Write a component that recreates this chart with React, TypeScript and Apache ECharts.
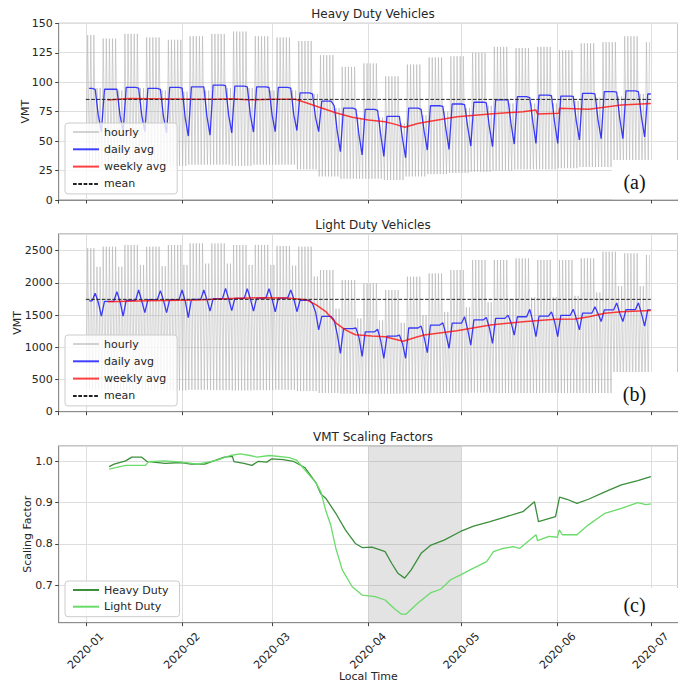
import React, { useEffect, useRef } from 'react';
import * as echarts from 'echarts';

// ---------- time base ----------
const DAY_MS = 86400000;
const START = Date.UTC(2020, 0, 1); // Wednesday
const N_DAYS = 182;
const at = (day: number) => START + day * DAY_MS;

// ---------- Heavy duty (per week, weeks Mon..Sun, week 0 = Jan 1-5) ----------
const HD_DAILY_MON_THU = [94.8, 94, 95.6, 94.8, 95.6, 96, 97.6, 96.7, 96, 95.6, 91, 84, 78, 77, 71, 78, 80, 81.5, 83, 85, 87.7, 89, 88.2, 90.5, 92, 92.7, 90];
const HD_DAILY_FRI = [94, 94, 95, 94, 95, 96, 97, 96, 95.5, 95, 90, 80, 77, 76, 71, 77, 79.5, 81, 82.5, 85, 87, 88.5, 88, 90, 91.5, 92, 90];
const HD_DAILY_SAT = [72, 72, 72, 71, 70, 71, 72, 72, 72, 72, 70, 58, 55, 55, 52, 58, 60, 62, 62, 64, 66, 66, 67, 68, 69, 70, 70];
const HD_DAILY_SUN = [58, 58, 58, 57, 54.3, 55, 57, 57.7, 58, 59, 58, 41, 38.2, 37, 36, 42.4, 43, 45.8, 45.3, 47.5, 48, 48, 51, 52, 52, 53.5, 53];
const HD_HOURLY_PEAK_WD = [140, 137, 141, 138, 136, 139, 141, 143, 139, 138, 135, 123, 113, 116, 105, 115, 121, 122, 125, 130, 129, 130, 127, 133, 134, 139, 134];
const HD_HOURLY_PEAK_WE = [95, 93, 95, 93, 92, 93, 95, 95, 93, 93, 90, 78, 70, 70, 65, 72, 75, 78, 80, 82, 82, 82, 84, 87, 88, 90, 90];
const HD_HOURLY_LOW = [30, 30, 29, 30, 29, 30, 30, 29, 30, 30, 26, 20, 18, 18, 17, 20, 22, 23, 24, 25, 26, 26, 27, 28, 28, 30, 30];
const HD_WEEKLY_DAY = [7, 14, 21, 28, 35, 42, 47, 52, 60, 67.5, 71, 75.2, 80.5, 85.8, 91, 96.4, 100, 102.7, 106.9, 110, 119.6, 130.2, 140.8, 145, 145.5, 152.4, 152.6, 162, 172.5, 182];
const HD_WEEKLY = [84.9, 86.2, 86, 85.8, 85.5, 85.5, 86, 85, 85.5, 85.5, 82.6, 78.7, 74.1, 70.2, 67.9, 66.5, 64, 61.7, 65, 66.5, 70.7, 73, 75, 76.4, 73, 73.6, 77.8, 77, 80.6, 82];
const HD_MEAN = 85.4;

// ---------- Light duty ----------
const LD_DAILY_MON_THU = [1720, 1715, 1730, 1740, 1740, 1745, 1755, 1760, 1765, 1765, 1730, 1480, 1290, 1240, 1175, 1300, 1346, 1375, 1425, 1450, 1475, 1486, 1495, 1530, 1580, 1585, 1580];
const LD_DAILY_FRI = [1840, 1864, 1890, 1880, 1890, 1890, 1916, 1910, 1910, 1890, 1680, 1420, 1300, 1280, 1190, 1330, 1380, 1475, 1465, 1500, 1590, 1550, 1590, 1630, 1690, 1690, 1600];
const LD_DAILY_SAT = [1700, 1710, 1720, 1730, 1720, 1740, 1750, 1750, 1750, 1750, 1550, 1200, 1150, 1100, 1060, 1150, 1200, 1280, 1300, 1380, 1400, 1400, 1450, 1520, 1530, 1520, 1500];
const LD_DAILY_SUN = [1486, 1486, 1540, 1540, 1460, 1563, 1570, 1563, 1550, 1553, 1270, 907, 860, 830, 830, 916, 984, 1035, 1062, 1190, 1165, 1165, 1270, 1400, 1400, 1330, 1300];
const LD_HOURLY_PEAK_WD = [2540, 2563, 2590, 2563, 2590, 2615, 2615, 2590, 2590, 2575, 2563, 2200, 2045, 1994, 1890, 2097, 2148, 2200, 2356, 2356, 2382, 2356, 2356, 2382, 2485, 2460, 2434];
const LD_HOURLY_PEAK_WE = [2250, 2250, 2280, 2260, 2280, 2300, 2300, 2280, 2280, 2270, 2100, 1600, 1450, 1420, 1380, 1500, 1550, 1620, 1700, 1750, 1780, 1780, 1800, 1850, 1950, 1950, 1950];
const LD_HOURLY_LOW = [345, 340, 335, 340, 330, 340, 335, 330, 335, 340, 320, 290, 280, 280, 280, 285, 290, 290, 295, 290, 290, 290, 290, 290, 290, 290, 290];
const LD_WEEKLY_DAY = [7, 20, 36, 46.5, 57, 64.6, 71, 74.2, 77.4, 80.5, 83.6, 86.8, 92.1, 96.4, 102.2, 106.9, 109, 119.5, 130.3, 140.8, 151.2, 157.6, 162.1, 167.2, 172.5, 182];
const LD_WEEKLY = [1708, 1725, 1735, 1760, 1770, 1765, 1740, 1660, 1550, 1380, 1270, 1195, 1175, 1165, 1095, 1165, 1190, 1258, 1346, 1398, 1435, 1440, 1475, 1528, 1553, 1570];
const LD_MEAN = 1745;

// ---------- Scaling factors ----------
const SF_HD_DAY = [7.5, 9.1, 12.8, 14.8, 18, 19.6, 25.5, 30.7, 33.9, 38.3, 44.6, 47.2, 47.7, 50.9, 53.5, 55.6, 58.3, 59.9, 63.6, 66.8, 70.5, 74.2, 75.7, 77.3, 80.5, 83.6, 86.8, 89, 92.1, 94.1, 96.4, 98.5, 100.5, 102.7, 104.8, 108, 111.2, 115.4, 120.7, 124.9, 130.2, 135.5, 140.8, 144.5, 145.8, 151.3, 152.6, 155, 158.2, 161.9, 167.2, 172.5, 177.8, 182];
const SF_HD = [0.987, 0.993, 1.001, 1.01, 1.01, 1.0, 0.995, 0.997, 0.993, 0.993, 1.01, 1.012, 0.999, 0.995, 0.99, 1.0, 0.998, 1.006, 1.004, 1.0, 0.985, 0.947, 0.921, 0.91, 0.874, 0.834, 0.801, 0.791, 0.792, 0.787, 0.781, 0.753, 0.729, 0.717, 0.737, 0.777, 0.797, 0.809, 0.83, 0.843, 0.854, 0.866, 0.878, 0.902, 0.854, 0.866, 0.913, 0.908, 0.898, 0.908, 0.926, 0.943, 0.953, 0.963];
const SF_LD_DAY = [7.5, 12.8, 19.2, 20.2, 25.5, 30.7, 36.1, 42.4, 46.5, 49.7, 52.9, 55.1, 59.2, 65.6, 67.8, 74.2, 75.7, 77.3, 78.9, 80.5, 82.6, 85.8, 89, 93.2, 96.4, 99.5, 101.6, 103.2, 106.9, 111.2, 114.3, 117.5, 120.7, 124.9, 129.1, 131.3, 134.4, 137.6, 139.7, 145, 145.5, 149.2, 151.9, 152.5, 153.5, 158.2, 161.9, 167.2, 172.5, 177.8, 180.4, 182];
const SF_LD = [0.981, 0.99, 0.99, 0.999, 1.001, 0.998, 0.993, 1.003, 1.014, 1.018, 1.014, 1.01, 1.014, 1.009, 1.003, 0.947, 0.926, 0.88, 0.845, 0.79, 0.737, 0.696, 0.676, 0.672, 0.664, 0.642, 0.63, 0.63, 0.656, 0.682, 0.69, 0.713, 0.725, 0.741, 0.757, 0.781, 0.789, 0.793, 0.789, 0.822, 0.808, 0.818, 0.816, 0.834, 0.822, 0.822, 0.846, 0.874, 0.886, 0.9, 0.895, 0.897];
const SHADE_DAYS = [91, 121]; // 2020-04-01 .. 2020-05-01

// ---------- builders ----------
const weekIndex = (d: number) => Math.floor((d + 2) / 7);
const weekday = (d: number) => (d + 2) % 7; // 0 = Monday

function dailySeries(monThu: number[], fri: number[], sat: number[], sun: number[]) {
  const out: [number, number][] = [];
  for (let d = 0; d < N_DAYS; d++) {
    const k = weekIndex(d);
    const w = weekday(d);
    const v = w <= 3 ? monThu[k] : w === 4 ? fri[k] : w === 5 ? sat[k] : sun[k];
    out.push([at(d + 1), v]);
  }
  return out;
}

function hourlySeries(peakWd: number[], peakWe: number[], low: number[]) {
  const out: [number, number][] = [];
  for (let d = 0; d < N_DAYS; d++) {
    const k = weekIndex(d);
    const w = weekday(d);
    out.push([at(d + 0.17), low[k]]);
    out.push([at(d + 0.58), w >= 5 ? peakWe[k] : peakWd[k]]);
  }
  return out;
}

const pairs = (days: number[], vals: number[]) => days.map((d, i) => [at(d), vals[i]]);

const FONT = 'DejaVu Sans';
const TEXT = '#262626';
const FRAME = '#8c8c8c';
const GRIDC = '#dedede';
const HOURLY_C = 'rgba(175,175,175,0.55)';
const BLUE = 'rgba(0,0,255,0.75)';
const RED = 'rgba(255,0,0,0.75)';
const HD_GREEN = '#3b8e3b';
const LD_GREEN = '#69dc69';

function buildOption() {
  const xMin = at(-8.75);
  const xMax = at(190.75);
  const gridBoxes = [
    { left: 58.7, top: 23.3, width: 628.8, height: 176.7 },
    { left: 58.7, top: 234, width: 628.8, height: 177.7 },
    { left: 58.7, top: 446, width: 628.8, height: 176.7 },
  ];
  const grid = gridBoxes.map((g) => ({ ...g, show: true, borderColor: FRAME, borderWidth: 1, containLabel: false }));

  const fmtMonth = (v: number) => {
    const d = new Date(v);
    return `${d.getUTCFullYear()}-${String(d.getUTCMonth() + 1).padStart(2, '0')}`;
  };

  const xAxis = [0, 1, 2].map((i) => ({
    type: 'time',
    gridIndex: i,
    min: xMin,
    max: xMax,
    splitNumber: 6,
    minInterval: 28 * DAY_MS,
    maxInterval: 31 * DAY_MS,
    axisLine: { show: true, lineStyle: { color: FRAME, width: 1 } },
    axisTick: { show: true, length: 3.5, lineStyle: { color: '#444' } },
    splitLine: { show: true, lineStyle: { color: GRIDC, width: 1 } },
    axisLabel:
      i === 2
        ? {
            show: true,
            rotate: 45,
            align: 'center',
            verticalAlign: 'middle',
            margin: 28,
            fontSize: 11,
            color: TEXT,
            fontFamily: FONT,
            formatter: fmtMonth,
            hideOverlap: false,
          }
        : { show: false },
    name: i === 2 ? 'Local Time' : '',
    nameLocation: 'middle',
    nameGap: 48,
    nameMoveOverlap: false,
    nameTextStyle: { fontSize: 11, color: TEXT, fontFamily: FONT },
  }));

  const yCommon = {
    type: 'value',
    nameLocation: 'middle',
    nameMoveOverlap: false,
    nameTextStyle: { fontSize: 11, color: TEXT, fontFamily: FONT },
    axisLine: { show: true, lineStyle: { color: FRAME, width: 1 } },
    axisTick: { show: true, length: 3.5, lineStyle: { color: '#444' } },
    splitLine: { show: true, lineStyle: { color: GRIDC, width: 1 } },
  };
  const yLabel = { fontSize: 11, color: TEXT, fontFamily: FONT, margin: 6, formatter: (v: number) => String(v) };
  const yAxis = [
    { ...yCommon, gridIndex: 0, min: 0, max: 150, interval: 25, name: 'VMT', nameGap: 28, axisLabel: { ...yLabel } },
    { ...yCommon, gridIndex: 1, min: 0, max: 2760, interval: 500, name: 'VMT', nameGap: 36, axisLabel: { ...yLabel, showMaxLabel: false } },
    {
      ...yCommon,
      gridIndex: 2,
      min: 0.609,
      max: 1.037,
      splitNumber: 5,
      name: 'Scaling Factor',
      nameGap: 25.5,
      axisLabel: { ...yLabel, showMinLabel: false, showMaxLabel: false, formatter: (v: number) => v.toFixed(1) },
    },
  ];

  const line = (name: string, xi: number, data: any[], color: string, width: number, extra: any = {}) => ({
    type: 'line',
    name,
    xAxisIndex: xi,
    yAxisIndex: xi,
    data,
    showSymbol: false,
    symbol: 'none',
    silent: true,
    itemStyle: { color },
    lineStyle: { color, width, ...(extra.lineStyle || {}) },
    emphasis: { disabled: true },
    z: extra.z ?? 2,
  });

  const series: any[] = [
    line('hourly', 0, hourlySeries(HD_HOURLY_PEAK_WD, HD_HOURLY_PEAK_WE, HD_HOURLY_LOW), HOURLY_C, 1),
    line('daily avg', 0, dailySeries(HD_DAILY_MON_THU, HD_DAILY_FRI, HD_DAILY_SAT, HD_DAILY_SUN), BLUE, 1.3),
    line('weekly avg', 0, pairs(HD_WEEKLY_DAY, HD_WEEKLY), RED, 1.5),
    line('mean', 0, [[at(0), HD_MEAN], [at(N_DAYS), HD_MEAN]], '#222', 1, { lineStyle: { type: [3.7, 1.6] } }),
    line('hourly', 1, hourlySeries(LD_HOURLY_PEAK_WD, LD_HOURLY_PEAK_WE, LD_HOURLY_LOW), HOURLY_C, 1),
    line('daily avg', 1, dailySeries(LD_DAILY_MON_THU, LD_DAILY_FRI, LD_DAILY_SAT, LD_DAILY_SUN), BLUE, 1.3),
    line('weekly avg', 1, pairs(LD_WEEKLY_DAY, LD_WEEKLY), RED, 1.5),
    line('mean', 1, [[at(0), LD_MEAN], [at(N_DAYS), LD_MEAN]], '#222', 1, { lineStyle: { type: [3.7, 1.6] } }),
    {
      type: 'line',
      xAxisIndex: 2,
      yAxisIndex: 2,
      data: [],
      silent: true,
      z: 1,
      markArea: {
        silent: true,
        itemStyle: { color: 'rgba(128,128,128,0.22)' },
        data: [[{ xAxis: at(SHADE_DAYS[0]) }, { xAxis: at(SHADE_DAYS[1]) }]],
      },
    },
    line('Heavy Duty', 2, pairs(SF_HD_DAY, SF_HD), HD_GREEN, 1.3, { z: 3 }),
    line('Light Duty', 2, pairs(SF_LD_DAY, SF_LD), LD_GREEN, 1.3, { z: 3 }),
  ];

  const legendBase = {
    orient: 'vertical',
    left: 65,
    itemWidth: 26,
    itemHeight: 2,
    itemGap: 4.3,
    padding: [2.5, 11, 3.5, 7],
    backgroundColor: 'rgba(255,255,255,0.8)',
    borderColor: '#cccccc',
    borderWidth: 1,
    borderRadius: 3,
    selectedMode: false,
    itemStyle: { opacity: 0 },
    textStyle: { fontSize: 11, color: TEXT, fontFamily: FONT, lineHeight: 13 },
  };
  const legend = [
    { ...legendBase, top: 123, data: ['hourly', 'daily avg', 'weekly avg', 'mean'] },
    { ...legendBase, top: 335, data: ['hourly', 'daily avg', 'weekly avg', 'mean'] },
    { ...legendBase, top: 581, itemGap: 3.7, data: ['Heavy Duty', 'Light Duty'] },
  ];

  const title = (text: string, y: number) => ({
    type: 'text',
    x: 373,
    y,
    z: 110,
    style: { text, align: 'center', verticalAlign: 'middle', font: `12px "${FONT}"`, fill: TEXT },
  });
  const tag = (text: string, boxTop: number, boxBottom: number) => [
    { type: 'rect', z: 100, silent: true, shape: { x: 612, y: boxTop, width: 120, height: boxBottom - boxTop }, style: { fill: '#ffffff', stroke: 'none', lineWidth: 0 } },
    {
      type: 'text',
      z: 101,
      x: 634.5,
      y: boxBottom - 17,
      style: { text, align: 'center', verticalAlign: 'middle', font: '20px "Liberation Serif"', fill: '#111' },
    },
  ];
  const graphic = [
    title('Heavy Duty Vehicles', 14.3),
    title('Light Duty Vehicles', 225),
    title('VMT Scaling Factors', 436.7),
    ...tag('(a)', 160, 199.3),
    ...tag('(b)', 372, 411),
    ...tag('(c)', 588, 622),
  ];

  return {
    animation: false,
    useUTC: true,
    backgroundColor: '#ffffff',
    textStyle: { fontFamily: FONT },
    grid,
    xAxis,
    yAxis,
    legend,
    series,
    graphic,
  };
}

export default function App() {
  const ref = useRef<HTMLDivElement>(null);
  useEffect(() => {
    if (!ref.current) return;
    const chart = echarts.init(ref.current, undefined, { renderer: 'svg' });
    chart.setOption(buildOption() as any);
    return () => chart.dispose();
  }, []);
  return <div ref={ref} style={{ position: 'fixed', left: 0, top: 0, width: 678, height: 685, background: '#fff' }} />;
}
